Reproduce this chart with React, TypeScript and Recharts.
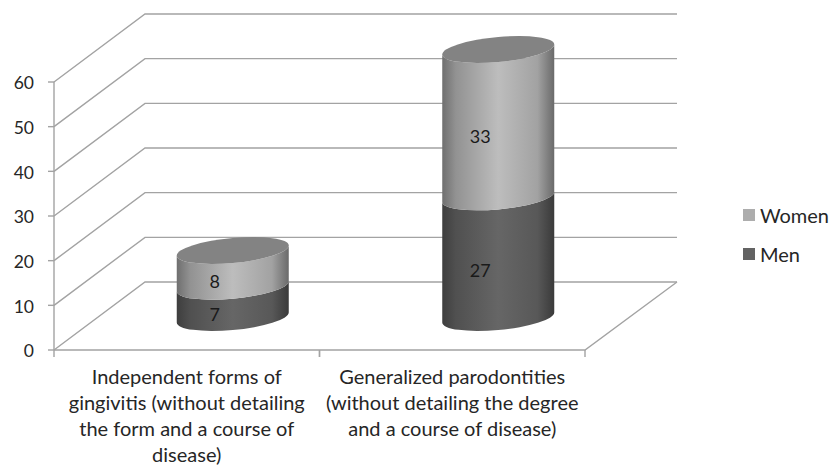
import { Bar, BarChart, CartesianGrid, LabelList, Legend, XAxis, YAxis } from 'recharts';

const categories = [
  'Independent forms of\ngingivitis (without detailing\nthe form and a course of\ndisease)',
  'Generalized parodontities\n(without detailing the degree\nand a course of disease)',
];
const men = [7, 27];
const women = [8, 33];
const yTicks = [0, 10, 20, 30, 40, 50, 60];

const chartData = categories.map((name, i) => ({ name, Men: men[i], Women: women[i] }));

const FONT = 'Lato, sans-serif';
const TEXT = '#262626';
const LINE = '#a3a3a3';
const DEPTH_X = 91;
const DEPTH_Y = 68;
const BAND = 265.5;
// half way into the floor, where the cylinders stand
const MID_X = 45.75;
const MID_Y = 32.5;
const RX = 56;
const RY = 12.5;

const grid3d = (props: any) => {
  const { x1, y1, x2 } = props;
  const bx = x1 + DEPTH_X;
  const by = y1 - DEPTH_Y;
  const isFloor = y1 > 340;
  return (
    <g key={props.key}>
      <polyline
        points={`${x1},${y1} ${bx},${by} ${x2 + DEPTH_X + 1},${by}`}
        fill="none"
        stroke={LINE}
        strokeWidth={1.4}
      />
      {isFloor && (
        <polyline
          points={`${x1},${y1} ${x2},${y1} ${x2 + DEPTH_X + 1},${by}`}
          fill="none"
          stroke={LINE}
          strokeWidth={1.4}
        />
      )}
    </g>
  );
};

const cylinder = (gradient: string, isTop: boolean) => (props: any) => {
  const { x, y, width, height } = props;
  const cx = x + width / 2 + MID_X;
  const bottom = y + height - MID_Y;
  const h = height;
  return (
    <g transform={`translate(${cx},${bottom}) skewY(-5.1)`}>
      <path
        d={`M${-RX},${-h} L${-RX},0 A${RX},${RY} 0 0 0 ${RX},0 L${RX},${-h} A${RX},${RY} 0 0 1 ${-RX},${-h} Z`}
        fill={`url(#${gradient})`}
      />
      {isTop && <ellipse cx={0} cy={-h} rx={RX} ry={RY} fill="#838383" />}
    </g>
  );
};

const valueLabel = (props: any) => {
  const { x, y, width, height, value } = props;
  return (
    <text
      x={x + width / 2 + 27.75}
      y={y + height / 2 - 20}
      textAnchor="middle"
      dominantBaseline="central"
      fontFamily={FONT}
      fontSize={18}
      fill="#1a1a1a"
    >
      {value}
    </text>
  );
};

const CategoryTick = (props: any) => {
  const { x, y, payload } = props;
  const lines = String(payload.value).split('\n');
  return (
    <g>
      <line x1={x - BAND / 2} x2={x - BAND / 2} y1={y - 8} y2={y - 1} stroke={LINE} strokeWidth={1.4} />
      <line x1={x + BAND / 2} x2={x + BAND / 2} y1={y - 8} y2={y - 1} stroke={LINE} strokeWidth={1.4} />
      {lines.map((line, i) => (
        <text
          key={line}
          x={x}
          y={y + 26 + i * 26}
          textAnchor="middle"
          fontFamily={FONT}
          fontSize={20}
          fill={TEXT}
        >
          {line}
        </text>
      ))}
    </g>
  );
};

const legendColors: Record<string, string> = { Women: '#adadad', Men: '#636363' };

const LegendBox = () => (
  <div style={{ width: 86, fontFamily: FONT, fontSize: 20, color: TEXT }}>
    {['Women', 'Men'].map((name) => (
      <div key={name} style={{ display: 'flex', alignItems: 'center', height: 39 }}>
        <span style={{ width: 12, height: 12, background: legendColors[name], marginRight: 5 }} />
        {name}
      </div>
    ))}
  </div>
);

export default function App() {
  return (
    <div style={{ position: 'absolute', left: 0, top: 0, width: 829, height: 467, background: '#fff' }}>
      <BarChart
        width={829}
        height={467}
        data={chartData}
        margin={{ top: 82, right: 158, bottom: 0, left: 0 }}
      >
        <defs>
          <linearGradient id="womenFill" x1="0" y1="0" x2="1" y2="0">
            <stop offset="0%" stopColor="#6f6f6f" />
            <stop offset="12%" stopColor="#929292" />
            <stop offset="50%" stopColor="#bdbdbd" />
            <stop offset="85%" stopColor="#a2a2a2" />
            <stop offset="100%" stopColor="#6a6a6a" />
          </linearGradient>
          <linearGradient id="menFill" x1="0" y1="0" x2="1" y2="0">
            <stop offset="0%" stopColor="#3e3e3e" />
            <stop offset="12%" stopColor="#505050" />
            <stop offset="50%" stopColor="#666666" />
            <stop offset="85%" stopColor="#585858" />
            <stop offset="100%" stopColor="#3a3a3a" />
          </linearGradient>
        </defs>
        <CartesianGrid vertical={false} horizontal={grid3d} />
        <XAxis
          dataKey="name"
          height={117}
          interval={0}
          axisLine={false}
          tickLine={false}
          tick={<CategoryTick />}
        />
        <YAxis
          width={54}
          domain={[0, 60]}
          ticks={yTicks}
          interval={0}
          stroke={LINE}
          strokeWidth={1.4}
          tickSize={6}
          tickMargin={14}
          tick={{ fill: TEXT, fontFamily: FONT, fontSize: 17.5, dy: 1 }}
        />
        <Bar dataKey="Men" stackId="a" barSize={112} isAnimationActive={false} shape={cylinder('menFill', false)}>
          <LabelList dataKey="Men" content={valueLabel} />
        </Bar>
        <Bar dataKey="Women" stackId="a" barSize={112} isAnimationActive={false} shape={cylinder('womenFill', true)}>
          <LabelList dataKey="Women" content={valueLabel} />
        </Bar>
        <Legend
          layout="vertical"
          align="right"
          verticalAlign="middle"
          content={<LegendBox />}
          wrapperStyle={{ left: 743, top: 195, width: 86 }}
        />
      </BarChart>
    </div>
  );
}
